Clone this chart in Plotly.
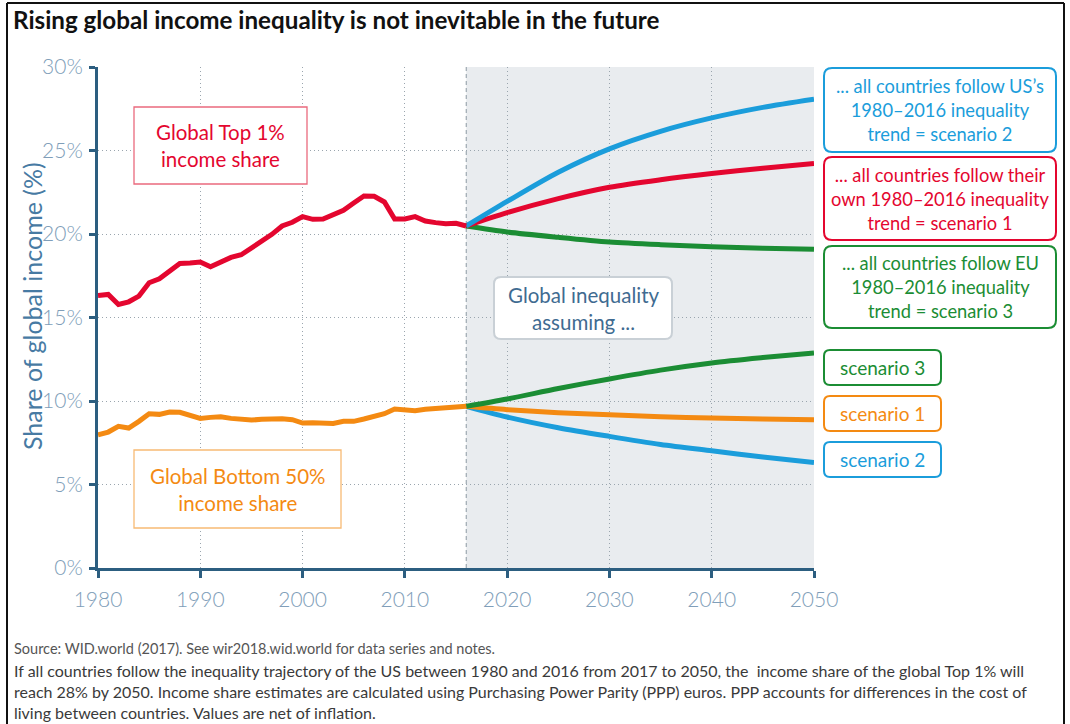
import plotly.graph_objects as go

# ---------------- data ----------------
years_hist = list(range(1980, 2017))
top1_hist = [16.32, 16.38, 15.78, 15.94, 16.28, 17.08, 17.32, 17.78, 18.24, 18.26,
             18.32, 18.04, 18.36, 18.60, 18.76, 19.14, 19.60, 19.98, 20.48, 20.70,
             21.04, 20.88, 20.90, 21.14, 21.42, 21.86, 22.28, 22.26, 21.92, 20.90,
             20.90, 21.04, 20.78, 20.68, 20.62, 20.64, 20.48]
bottom50_hist = [7.98, 8.14, 8.48, 8.38, 8.78, 9.24, 9.20, 9.34, 9.32, 9.12,
                 8.96, 9.02, 9.06, 8.96, 8.92, 8.86, 8.90, 8.94, 8.94, 8.88,
                 8.68, 8.70, 8.68, 8.66, 8.78, 8.78, 8.92, 9.10, 9.24, 9.52,
                 9.44, 9.42, 9.50, 9.54, 9.64, 9.68, 9.68]

years_proj = [2016, 2020, 2025, 2030, 2035, 2040, 2045, 2050]
top1_scen1 = [20.48, 21.28, 22.12, 22.80, 23.25, 23.62, 23.94, 24.22]
top1_scen2 = [20.48, 21.95, 23.70, 25.10, 26.15, 26.95, 27.58, 28.07]
top1_scen3 = [20.48, 20.12, 19.80, 19.52, 19.36, 19.24, 19.15, 19.08]
bottom50_scen1 = [9.68, 9.48, 9.30, 9.18, 9.06, 8.98, 8.92, 8.88]
bottom50_scen2 = [9.68, 9.04, 8.40, 7.88, 7.40, 7.02, 6.65, 6.32]
bottom50_scen3 = [9.68, 10.12, 10.75, 11.32, 11.85, 12.28, 12.60, 12.88]

x_ticks = [1980, 1990, 2000, 2010, 2020, 2030, 2040, 2050]
y_ticks = [0, 5, 10, 15, 20, 25, 30]
y_tick_labels = ["0%", "5%", "10%", "15%", "20%", "25%", "30%"]

# ---------------- style ----------------
RED = "#e4062f"
BLUE = "#1b9ddb"
GREEN = "#1b8d34"
ORANGE = "#f48a12"
AXIS = "#2c5e80"
TICKTXT = "#809eb9"
GRID = "#9aa5ae"
SHADE = "#e9ecef"
FONT = "Lato"

W, H = 1070, 724
L, R, T, B = 98, 814, 67, 568


def px(x):
    return (x - L) / (R - L)


def py(y):
    return (B - y) / (B - T)


def rounded_box(x0, y0, x1, y1, r):
    """SVG path (paper coords) of a rounded rectangle given in pixels."""
    pts = [
        f"M {px(x0 + r)},{py(y0)}",
        f"L {px(x1 - r)},{py(y0)}",
        f"Q {px(x1)},{py(y0)} {px(x1)},{py(y0 + r)}",
        f"L {px(x1)},{py(y1 - r)}",
        f"Q {px(x1)},{py(y1)} {px(x1 - r)},{py(y1)}",
        f"L {px(x0 + r)},{py(y1)}",
        f"Q {px(x0)},{py(y1)} {px(x0)},{py(y1 - r)}",
        f"L {px(x0)},{py(y0 + r)}",
        f"Q {px(x0)},{py(y0)} {px(x0 + r)},{py(y0)}",
        "Z",
    ]
    return " ".join(pts)


fig = go.Figure()


def add_line(x, y, color, shape="linear"):
    fig.add_trace(go.Scatter(x=x, y=y, mode="lines",
                             line=dict(color=color, width=5, shape=shape, smoothing=0.8),
                             hoverinfo="skip", showlegend=False))


add_line(years_proj, top1_scen3, GREEN, "spline")
add_line(years_proj, top1_scen1, RED, "spline")
add_line(years_proj, top1_scen2, BLUE, "spline")
add_line(years_proj, bottom50_scen2, BLUE, "spline")
add_line(years_proj, bottom50_scen1, ORANGE, "spline")
add_line(years_proj, bottom50_scen3, GREEN, "spline")
add_line(years_hist, top1_hist, RED)
add_line(years_hist, bottom50_hist, ORANGE)

shapes = []
# projection period background and its boundary
shapes.append(dict(type="rect", xref="x", yref="y", x0=2016, x1=2050, y0=0, y1=30,
                   fillcolor=SHADE, line=dict(width=0), layer="below"))
shapes.append(dict(type="line", xref="x", yref="y", x0=2016, x1=2016, y0=0, y1=30,
                   line=dict(color="#8d99a2", width=1, dash="4px,3px"), layer="below"))

# outer frame
for (xa, ya, xb, yb) in [(7, 3, 1064, 3), (7, 3, 7, 724), (1064, 3, 1064, 724)]:
    shapes.append(dict(type="line", xref="paper", yref="paper",
                       x0=px(xa), y0=py(ya), x1=px(xb), y1=py(yb),
                       line=dict(color="#111111", width=2)))

# label boxes
boxes = [
    (134, 107, 307, 184, 0, "#ea6a7d", 1.3, "white"),
    (134, 450, 341, 528, 0, "#f8ba74", 1.3, "white"),
    (494, 277, 672, 339, 7, "#c9d0d6", 2, "white"),
    (824, 68, 1056, 152, 8, BLUE, 2, "white"),
    (824, 157, 1056, 240, 8, RED, 2, "white"),
    (824, 246, 1056, 328, 8, GREEN, 2, "white"),
    (824, 350, 941, 385, 6, GREEN, 2, "white"),
    (824, 396, 941, 431, 6, ORANGE, 2, "white"),
    (824, 442, 941, 477, 6, BLUE, 2, "white"),
]
for (x0, y0, x1, y1, r, col, w, fill) in boxes:
    if r == 0:
        shapes.append(dict(type="rect", xref="paper", yref="paper",
                           x0=px(x0), x1=px(x1), y0=py(y1), y1=py(y0),
                           line=dict(color=col, width=w), fillcolor=fill))
    else:
        shapes.append(dict(type="path", xref="paper", yref="paper",
                           path=rounded_box(x0, y0, x1, y1, r),
                           line=dict(color=col, width=w), fillcolor=fill))

annotations = []


def note(x, y, text, size, color, xanchor="center", yanchor="middle", align="center",
         weight=None, angle=0):
    f = dict(family=FONT, size=size, color=color)
    if weight:
        f["weight"] = weight
    annotations.append(dict(xref="paper", yref="paper", x=px(x), y=py(y), text=text,
                            showarrow=False, font=f, xanchor=xanchor, yanchor=yanchor,
                            align=align, textangle=angle))


note(11, 20, "Rising global income inequality is not inevitable in the future", 24.2,
     "#111111", xanchor="left", weight="bold")
note(32, 306, "Share of global income (%)", 25, "#477aa3", angle=-90)

note(220.5, 146, "Global Top 1%<br>income share", 20.5, RED)
note(237.5, 489, "Global Bottom 50%<br>income share", 20.5, ORANGE)
note(583, 308, "Global inequality<br>assuming ...", 20.5, "#3f6b91")
note(940, 110, "... all countries follow US’s<br>1980–2016 inequality<br>trend = scenario 2",
     18.3, BLUE)
note(940, 198.5, "... all countries follow their<br>own 1980–2016 inequality<br>trend = scenario 1",
     18.3, RED)
note(940, 287, "... all countries follow EU<br>1980–2016 inequality<br>trend = scenario 3",
     18.3, GREEN)
note(882.5, 367.5, "scenario 3", 19, GREEN)
note(882.5, 413.5, "scenario 1", 19, ORANGE)
note(882.5, 459.5, "scenario 2", 19, BLUE)

note(12, 648, "Source: WID.world (2017). See wir2018.wid.world for data series and notes.",
     14.5, "#555555", xanchor="left")
note(12, 691,
     "If all countries follow the inequality trajectory of the US between 1980 and 2016 from 2017 to 2050, the  income share of the global Top 1% will<br>"
     "reach 28% by 2050. Income share estimates are calculated using Purchasing Power Parity (PPP) euros. PPP accounts for differences in the cost of<br>"
     "living between countries. Values are net of inflation.",
     16, "#3a3a3a", xanchor="left", align="left")

fig.update_layout(
    width=W, height=H, autosize=False,
    margin=dict(l=L, r=W - R, t=T, b=H - B, pad=0),
    paper_bgcolor="white", plot_bgcolor="white",
    shapes=shapes, annotations=annotations,
    font=dict(family=FONT),
    xaxis=dict(range=[1980, 2050], tickvals=x_ticks, ticktext=[str(v) for v in x_ticks],
               showline=True, linecolor=AXIS, linewidth=3,
               ticks="outside", ticklen=7, tickwidth=3, tickcolor=AXIS,
               showgrid=True, gridcolor=GRID, griddash="1px,3px", gridwidth=1,
               zeroline=False, fixedrange=True,
               tickfont=dict(family=FONT, size=21, color=TICKTXT, weight=300),
               ticklabelstandoff=4),
    yaxis=dict(range=[0, 30], tickvals=y_ticks, ticktext=y_tick_labels,
               showline=True, linecolor=AXIS, linewidth=3,
               ticks="outside", ticklen=6, tickwidth=3, tickcolor=AXIS,
               showgrid=True, gridcolor=GRID, griddash="1px,3px", gridwidth=1,
               zeroline=False, fixedrange=True,
               tickfont=dict(family=FONT, size=21, color=TICKTXT, weight=300),
               ticklabelstandoff=2),
)

fig.write_html("out.html", config={"displayModeBar": False})
